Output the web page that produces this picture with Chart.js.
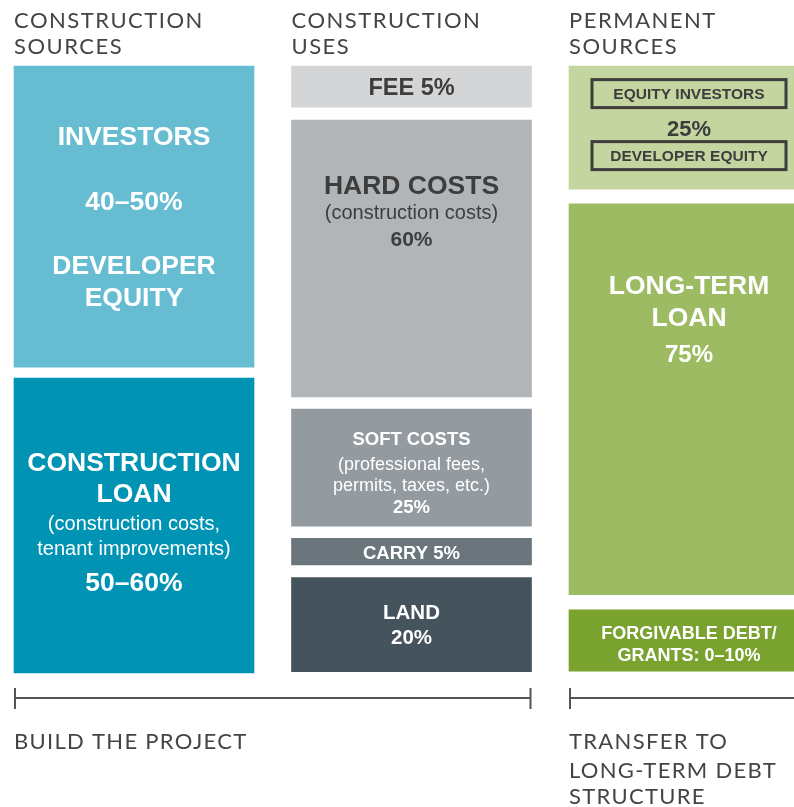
<!DOCTYPE html>
<html>
<head>
<meta charset="utf-8">
<script src="https://cdn.jsdelivr.net/npm/chart.js@4"></script>
<style>
  html, body { margin: 0; padding: 0; background: #fff; overflow: hidden; }
  #wrap { width: 794px; height: 807px; }
</style>
</head>
<body>
<div id="wrap"><canvas id="chart" width="794" height="807"></canvas></div>
<script>
// columns
var columns = ["CONSTRUCTION SOURCES", "CONSTRUCTION USES", "PERMANENT SOURCES"];
var headerLines = [["CONSTRUCTION", "SOURCES"], ["CONSTRUCTION", "USES"], ["PERMANENT", "SOURCES"]];

// construction sources (box extent as share of column height, 0 = top)
var sourcesNames = ["INVESTORS / DEVELOPER EQUITY", "CONSTRUCTION LOAN"];
var sourcesShares = ["40–50%", "50–60%"];
var sourcesSpans = [[0, 49.6], [51.4, 100]];

// construction uses
var usesNames = ["FEE", "HARD COSTS", "SOFT COSTS", "CARRY", "LAND"];
var usesShares = ["5%", "60%", "25%", "5%", "20%"];
var usesSpans = [[0, 6.8], [8.9, 54.5], [56.5, 75.8], [77.8, 82.2], [84.3, 99.8]];

// permanent sources
var permanentNames = ["EQUITY INVESTORS / DEVELOPER EQUITY", "LONG-TERM LOAN", "FORGIVABLE DEBT/GRANTS"];
var permanentShares = ["25%", "75%", "0–10%"];
var permanentSpans = [[0, 20.3], [22.7, 87.1], [89.6, 99.7]];

// phases under the columns
var phases = ["BUILD THE PROJECT", "TRANSFER TO LONG-TERM DEBT STRUCTURE"];
var phaseLines = [["BUILD THE PROJECT"], ["TRANSFER TO", "LONG-TERM DEBT", "STRUCTURE"]];

var sourcesColors = ["#66bcd0", "#0093b3"];
var usesColors = ["#d4d5d7", "#b1b5b8", "#939aa0", "#6b767c", "#45535d"];
var permanentColors = ["#c5d5a0", "#9dbb63", "#7aa22f"];

var spans = [sourcesSpans, usesSpans, permanentSpans];
var colors = [sourcesColors, usesColors, permanentColors];
var names = [sourcesNames, usesNames, permanentNames];

// text inside each box: [text, offset from box centre, size, bold, boxed]
var boxText = [
  [
    [["INVESTORS", -80, 26.5, 1], [sourcesShares[0], -15, 26.5, 1], ["DEVELOPER", 49, 26.5, 1], ["EQUITY", 81, 26.5, 1]],
    [["CONSTRUCTION", -63, 26.5, 1], ["LOAN", -32, 26.5, 1], ["(construction costs,", -3, 20, 0], ["tenant improvements)", 22, 20, 0], [sourcesShares[1], 57, 26.5, 1]]
  ],
  [
    [["FEE " + usesShares[0], 0, 23.5, 1]],
    [["HARD COSTS", -73, 26.5, 1], ["(construction costs)", -46, 20, 0], [usesShares[1], -20, 21, 1]],
    [["SOFT COSTS", -29, 18.5, 1], ["(professional fees,", -4, 18, 0], ["permits, taxes, etc.)", 17, 18, 0], [usesShares[2], 39, 18.5, 1]],
    [["CARRY " + usesShares[3], 1, 18.5, 1]],
    [["LAND", -13, 20.5, 1], [usesShares[4], 12, 20.5, 1]]
  ],
  [
    [["EQUITY INVESTORS", -34, 15.5, 1, 1], [permanentShares[0], 0.5, 22, 1], ["DEVELOPER EQUITY", 28, 15.5, 1, 1]],
    [["LONG-TERM", -114, 26.5, 1], ["LOAN", -82, 26.5, 1], [permanentShares[1], -45, 24, 1]],
    [["FORGIVABLE DEBT/", -8, 18, 1], ["GRANTS: " + permanentShares[2], 14, 18, 1]]
  ]
];
var darkBoxes = { "1-0": true, "1-1": true, "2-0": true };

var BAR_W = 240;
var layers = 5;
var datasets = [];
for (var k = 0; k < layers; k++) {
  datasets.push({
    label: "layer " + k,
    data: spans.map(function(s) { return s[k] || null; }),
    backgroundColor: colors.map(function(c) { return c[k] || "rgba(0,0,0,0)"; }),
    borderWidth: 0,
    clip: false
  });
}

var labelsPlugin = {
  id: "boxLabels",
  afterDatasetsDraw: function(chart) {
    var ctx = chart.ctx;
    var xs = chart.scales.x;
    ctx.save();
    ctx.textAlign = "center";
    ctx.textBaseline = "middle";
    chart.data.datasets.forEach(function(ds, k) {
      var meta = chart.getDatasetMeta(k);
      meta.data.forEach(function(el, col) {
        if (!ds.data[col]) return;
        var p = el.getProps(["x", "y", "base"], true);
        var mid = (p.y + p.base) / 2 + 1.5;
        var lines = boxText[col][k] || [];
        var dark = darkBoxes[col + "-" + k];
        lines.forEach(function(l) {
          ctx.font = (l[3] ? "bold " : "") + l[2] + "px 'Liberation Sans', Arial, sans-serif";
          ctx.fillStyle = dark ? "#3d3d3d" : "#ffffff";
          ctx.fillText(l[0], p.x, mid + l[1]);
          if (l[4]) {
            ctx.strokeStyle = "#3d3d3d";
            ctx.lineWidth = 3;
            ctx.strokeRect(p.x - 97, mid - 1.5 + l[1] - 14, 194, 28);
          }
        });
      });
    });

    // column headers
    ctx.textAlign = "left";
    ctx.fillStyle = "#444444";
    ctx.font = "22px Lato, sans-serif";
    ctx.letterSpacing = "1.5px";
    headerLines.forEach(function(hl, i) {
      var left = xs.getPixelForValue(i) - BAR_W / 2;
      hl.forEach(function(t, j) {
        ctx.fillText(t, left, 20.5 + j * 26.5);
      });
    });

    // brackets under the columns
    ctx.letterSpacing = "0px";
    var y0 = chart.chartArea.bottom + 25;
    ctx.strokeStyle = "#555555";
    ctx.lineWidth = 2;
    var l1 = xs.getPixelForValue(0) - BAR_W / 2 + 1;
    var r1 = xs.getPixelForValue(1) + BAR_W / 2 - 1;
    var l2 = xs.getPixelForValue(2) - BAR_W / 2 + 1;
    var r2 = xs.getPixelForValue(2) + BAR_W / 2;
    ctx.beginPath();
    ctx.moveTo(l1, y0); ctx.lineTo(r1, y0);
    ctx.moveTo(l1, y0 - 10); ctx.lineTo(l1, y0 + 11);
    ctx.moveTo(r1, y0 - 10); ctx.lineTo(r1, y0 + 11);
    ctx.moveTo(l2, y0); ctx.lineTo(r2, y0);
    ctx.moveTo(l2, y0 - 10); ctx.lineTo(l2, y0 + 11);
    ctx.stroke();

    ctx.fillStyle = "#444444";
    ctx.font = "22px Lato, sans-serif";
    ctx.letterSpacing = "1.3px";
    var starts = [l1 - 1, l2 - 1];
    var lineY = [742, 771, 797];
    phaseLines.forEach(function(pl, i) {
      pl.forEach(function(t, j) {
        ctx.fillText(t, starts[i], lineY[j]);
      });
    });
    ctx.restore();
  }
};

new Chart(document.getElementById("chart"), {
  type: "bar",
  data: {
    labels: columns,
    datasets: datasets
  },
  options: {
    responsive: false,
    animation: false,
    layout: { padding: { top: 66, bottom: 134, left: 134, right: 105 } },
    datasets: { bar: { grouped: false, barThickness: BAR_W } },
    plugins: { legend: { display: false }, tooltip: { enabled: false }, title: { display: false } },
    scales: {
      x: { display: false, offset: false, grid: { display: false } },
      y: { display: false, reverse: true, min: 0, max: 100 }
    }
  },
  plugins: [labelsPlugin]
});
</script>
</body>
</html>
